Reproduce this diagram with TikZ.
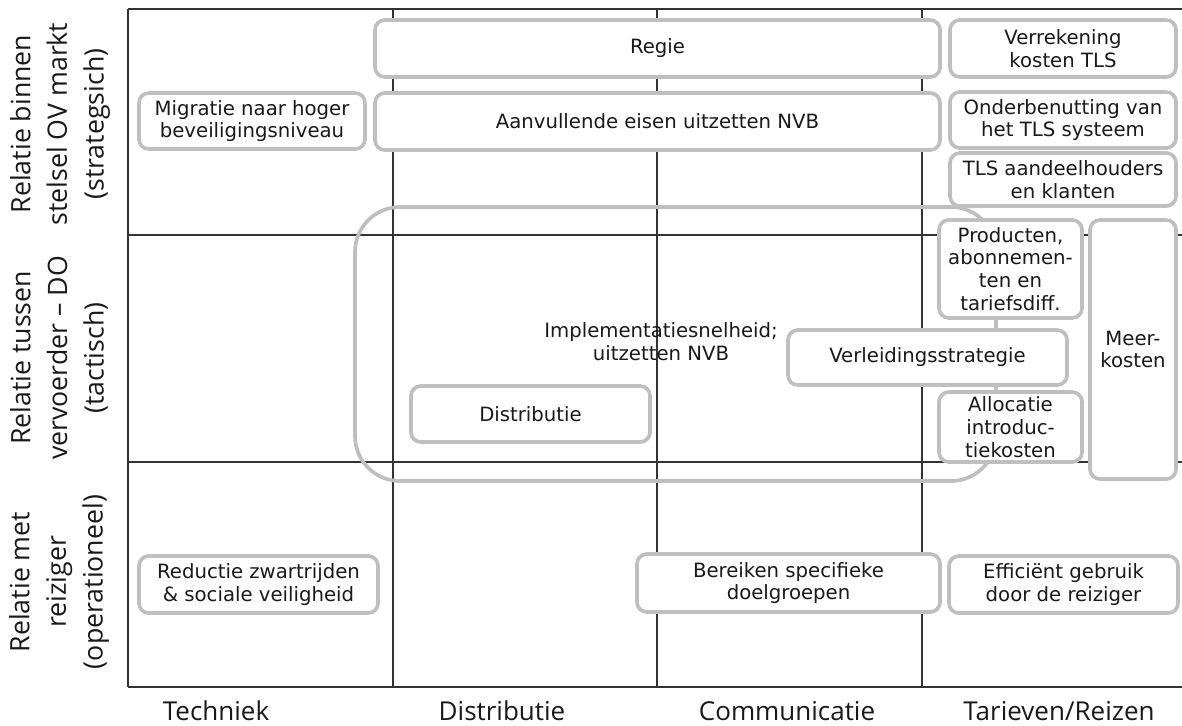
\documentclass[tikz,border=0pt]{standalone}
\usepackage{fontspec}
\setmainfont{DejaVu Sans}
\newfontfamily\axisfont{Open Sans}
\usetikzlibrary{positioning, calc}

\tikzset{
  grid line/.style={draw=black!80, line width=0.9pt},
  box size/.style 2 args={minimum width=#1*0.025cm, minimum height=#2*0.025cm},
  cell/.style={draw=black!25, line width=2.6pt, rounded corners=7pt, fill=white,
    inner sep=0pt, align=center, text=black!90, font=\fontsize{14}{16.2}\selectfont},
  region/.style={cell, fill=none, rounded corners=32pt},
  axis label/.style={font=\axisfont\fontsize{18.5}{26}\selectfont, align=center, text=black!90, anchor=base},
  row label/.style={axis label, font=\axisfont\fontsize{19}{26}\selectfont, anchor=center, rotate=90},
}

\begin{document}
\begin{tikzpicture}[x=0.025cm, y=-0.025cm]
    \useasboundingbox (0,0) rectangle (1182,725);

    % Grid
    \foreach \y in {9,235,462,687}
      \draw[grid line] (128,\y) -- (1182,\y);
    \foreach \x in {128,393,657,922}
      \draw[grid line] (\x,9) -- (\x,687);

    % Labels on the axes
    \node[row label] (strat) at (60,124) {Relatie binnen\\stelsel OV markt\\(strategsich)};
    \node[row label] (tact) at (59,358) {Relatie tussen\\vervoerder – DO\\(tactisch)};
    \node[row label] (oper) at (59,582) {Relatie met\\reiziger\\(operationeel)};
    \node[axis label] (tech) at (216,720) {Techniek};
    \node[axis label] (distr) at (502,720) {Distributie};
    \node[axis label] (comm) at (787,720) {Communicatie};
    \node[axis label] (tarief) at (1059,720) {Tarieven/Reizen};

    % Large region
    \node[region, box size={641}{274}] (impl) at (675.5,344) {};
    \node[cell, draw=none, fill=none] (impltext) at (661,342) {Implementatiesnelheid;\\uitzetten NVB};

    % Strategic row
    \node[cell, box size={565}{57}] (regie) at (657.5,48.5) {Regie};
    \node[cell, box size={565}{57}] (eisen) at (657.5,121.5) {Aanvullende eisen uitzetten NVB};
    \node[cell, box size={226}{56}] (migratie) at (252,121) {Migratie naar hoger\\beveiligingsniveau};
    \node[cell, box size={226}{57}] (verrek) at (1063,48.5) {Verrekening\\kosten TLS};
    \node[cell, box size={226}{56}] (onder) at (1063,120) {Onderbenutting van\\het TLS systeem};
    \node[cell, box size={226}{53}] (aandeel) at (1063,179.5) {TLS aandeelhouders\\en klanten};

    % Tactical row
    \node[cell, box size={143}{98}] (product) at (1010.5,269) {Producten,\\abonnemen-\\ten en\\tariefsdiff.};
    \node[cell, box size={279}{55}] (verleid) at (927.5,357.5) {Verleidingsstrategie};
    \node[cell, box size={143}{70}] (alloc) at (1010.5,427) {Allocatie\\introduc-\\tiekosten};
    \node[cell, box size={86}{259}] (meer) at (1133,349.5) {Meer-\\kosten};
    \node[cell, box size={239}{56}] (distributie) at (530.5,414) {Distributie};

    % Operational row
    \node[cell, box size={239}{57}] (reductie) at (258.5,584.5) {Reductie zwartrijden\\\& sociale veiligheid};
    \node[cell, box size={303}{58}] (bereik) at (788.5,583) {Bereiken specifieke\\doelgroepen};
    \node[cell, box size={229}{57}] (effic) at (1063.5,584.5) {Efficiënt gebruik\\door de reiziger};
\end{tikzpicture}
\end{document}
